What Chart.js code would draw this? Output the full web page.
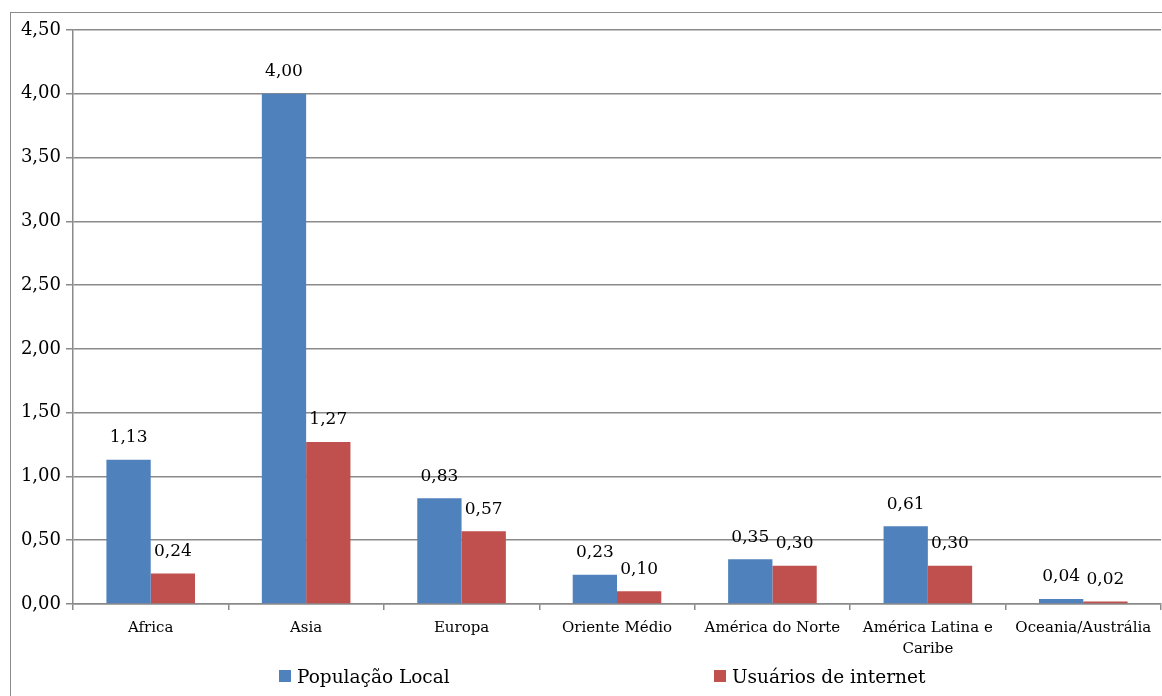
<!DOCTYPE html>
<html>
<head>
<meta charset="utf-8">
<script src="https://cdn.jsdelivr.net/npm/chart.js@4"></script>
<style>
  body { margin: 0; background: #fff; }
  #wrap { position: relative; width: 1162px; height: 696px; overflow: hidden; }
  #frame { position: absolute; left: 10px; top: 12px; width: 1300px; height: 800px; border: 1.5px solid #8a8a8a; box-sizing: border-box; }
  canvas { position: absolute; left: 0; top: 0; }
  .leg { position: absolute; top: 666px; font-family: 'DejaVu Serif', serif; font-size: 18.5px; color: #000; white-space: nowrap; }
  .leg span { display: inline-block; width: 12px; height: 12px; margin-right: 6px; vertical-align: 1px; }
</style>
</head>
<body>
<div id="wrap">
  <div id="frame"></div>
  <canvas id="chart" width="1162" height="696"></canvas>
  <div class="leg" style="left:279px"><span style="background:#4f81bd"></span>População Local</div>
  <div class="leg" style="left:714px"><span style="background:#c0504d"></span>Usuários de internet</div>
</div>
<script>
// regiões
const categories = ['Africa', 'Asia', 'Europa', 'Oriente Médio', 'América do Norte', ['América Latina e', 'Caribe'], 'Oceania/Austrália'];
// bilhões
const populacaoLocal = [1.13, 4.00, 0.83, 0.23, 0.35, 0.61, 0.04];
const usuariosInternet = [0.24, 1.27, 0.57, 0.10, 0.30, 0.30, 0.02];
const yTicks = [0, 0.5, 1, 1.5, 2, 2.5, 3, 3.5, 4, 4.5];

const fmt = v => v.toFixed(2).replace('.', ',');

// rótulos de valor em cima das barras
const valueLabels = {
  id: 'valueLabels',
  afterDatasetsDraw(chart) {
    const ctx = chart.ctx;
    ctx.save();
    ctx.font = '17px "DejaVu Serif", serif';
    ctx.fillStyle = '#000';
    ctx.textAlign = 'center';
    ctx.textBaseline = 'middle';
    chart.data.datasets.forEach((ds, i) => {
      chart.getDatasetMeta(i).data.forEach((bar, j) => {
        ctx.fillText(fmt(ds.data[j]), bar.x, bar.y - 22);
      });
    });
    ctx.restore();
  }
};

new Chart(document.getElementById('chart'), {
  type: 'bar',
  data: {
    labels: categories,
    datasets: [
      { label: 'População Local', data: populacaoLocal, backgroundColor: '#4f81bd' },
      { label: 'Usuários de internet', data: usuariosInternet, backgroundColor: '#c0504d' }
    ]
  },
  options: {
    responsive: false,
    animation: false,
    layout: { padding: { top: 30, right: 1, left: 0, bottom: 0 } },
    plugins: { legend: { display: false }, tooltip: { enabled: false } },
    datasets: { bar: { categoryPercentage: 0.57, barPercentage: 1 } },
    scales: {
      x: {
        afterFit: s => { s.height = 92; },
        grid: { drawOnChartArea: false, tickLength: 6, color: '#8a8a8a', lineWidth: 1.5 },
        border: { color: '#8a8a8a', width: 1.5 },
        ticks: { color: '#000', padding: 8, font: { family: 'DejaVu Serif', size: 15, lineHeight: 1.4 }, maxRotation: 0, autoSkip: false }
      },
      y: {
        min: 0,
        max: 4.5,
        afterFit: s => { s.width = 73; },
        afterBuildTicks: s => { s.ticks = yTicks.map(v => ({ value: v })); },
        grid: { color: '#8a8a8a', lineWidth: 1.5, tickLength: 7 },
        border: { color: '#8a8a8a', width: 1.5 },
        ticks: { color: '#000', padding: 5, callback: v => fmt(v), font: { family: 'DejaVu Serif', size: 18 } }
      }
    }
  },
  plugins: [valueLabels]
});
</script>
</body>
</html>
